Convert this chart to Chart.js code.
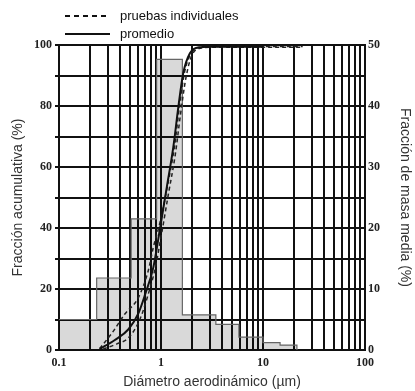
<!DOCTYPE html>
<html>
<head>
<meta charset="utf-8">
<script src="https://cdn.jsdelivr.net/npm/chart.js@4"></script>
<style>
  body { margin: 0; background: #fff; }
  #wrap { position: relative; width: 415px; height: 391px; }
  .leg { position: absolute; font: 13px "Liberation Sans", Arial, sans-serif; line-height: 13px; color: #111; white-space: nowrap; }
</style>
</head>
<body>
<div id="wrap">
  <canvas id="grafica"></canvas>
  <svg style="position:absolute;left:0;top:0" width="120" height="45">
    <line x1="65" y1="16" x2="110" y2="16" stroke="#111" stroke-width="2" stroke-dasharray="5 4"/>
    <line x1="65" y1="34" x2="110" y2="34" stroke="#111" stroke-width="2"/>
  </svg>
  <span class="leg" style="left:120px;top:9px">pruebas individuales</span>
  <span class="leg" style="left:120px;top:27px">promedio</span>
</div>
<script>
// --- Datos ---
// histograma (eje derecho, % masa): borde izquierdo de cada barra y su altura
const binEdges = [0.1, 0.234, 0.51, 0.906, 1.62, 3.45, 5.8, 10, 14.7, 21.5];
const binMass  = [5, 11.8, 21.5, 47.65, 5.75, 4.2, 2.1, 1.2, 0.8, 0];

// curva promedio (eje izquierdo, acumulativa)
const promDiam = [0.25, 0.35, 0.48, 0.6, 0.7, 0.84, 0.98, 1.14, 1.32, 1.48, 1.65, 1.92, 2.3, 3, 10];
const promAcum = [0.3, 3.2, 6.8, 12, 18.3, 27, 40, 53.4, 66.5, 79.7, 90.7, 97.3, 99.2, 99.4, 99.4];

// pruebas individuales
const pruebaADiam = [0.25, 0.33, 0.44, 0.6, 0.75, 0.84, 0.98, 1.16, 1.36, 1.52, 1.7, 1.95, 2.4, 3.2, 24.5];
const pruebaAAcum = [0.5, 5.5, 11.7, 17.2, 26, 33.6, 42, 54, 67, 80, 91, 97, 99.3, 99.5, 99.5];
const pruebaBDiam = [0.27, 0.37, 0.48, 0.62, 0.75, 0.88, 1.0, 1.18, 1.38, 1.55, 1.75, 2.0, 2.5, 3.5, 24.5];
const pruebaBAcum = [0.3, 2, 4, 10, 18.3, 27, 37, 51, 64, 77, 89, 96.5, 99, 99.3, 99.3];

// lineas de la rejilla logaritmica y etiquetas
const xGrid = [0.1, 0.2, 0.3, 0.4, 0.5, 0.6, 0.7, 0.8, 0.9, 1, 2, 3, 4, 5, 6, 7, 8, 9,
               10, 20, 30, 40, 50, 60, 70, 80, 90, 100];
const xLabels = ['0.1', '1', '10', '100'];

const pts = (xs, ys) => xs.map((x, i) => ({ x: x, y: ys[i] }));

const tickFont = { family: '"Liberation Serif", "Times New Roman", serif', size: 12, weight: 'bold' };
const titleFont = { family: '"Liberation Sans", Arial, sans-serif', size: 14 };
const negro = '#111';

new Chart(document.getElementById('grafica'), {
    type: 'line',
    data: {
        datasets: [
            {
                data: pts(promDiam, promAcum), yAxisID: 'y', order: 0,
                borderColor: negro, borderWidth: 2, pointRadius: 0,
                cubicInterpolationMode: 'monotone', fill: false
            },
            {
                data: pts(pruebaADiam, pruebaAAcum), yAxisID: 'y', order: 1,
                borderColor: '#222', borderWidth: 1.5, borderDash: [4, 3], pointRadius: 0,
                cubicInterpolationMode: 'monotone', fill: false
            },
            {
                data: pts(pruebaBDiam, pruebaBAcum), yAxisID: 'y', order: 2,
                borderColor: '#222', borderWidth: 1.5, borderDash: [4, 3], pointRadius: 0,
                cubicInterpolationMode: 'monotone', fill: false
            },
            {
                data: pts(binEdges, binMass), yAxisID: 'y1', order: 10,
                stepped: 'before', borderColor: '#666', borderWidth: 1.2, pointRadius: 0,
                backgroundColor: 'rgba(0,0,0,0.15)', fill: 'origin'
            }
        ]
    },
    options: {
        responsive: true,
        maintainAspectRatio: false,
        animation: false,
        layout: { padding: { top: 45, left: 0, right: 0, bottom: 0 } },
        plugins: { legend: { display: false }, tooltip: { enabled: false } },
        scales: {
            x: {
                type: 'logarithmic', min: 0.1, max: 100,
                afterBuildTicks: s => { s.ticks = xGrid.map(v => ({ value: v })); },
                afterFit: s => { s.height = 41; },
                grid: { color: negro, lineWidth: 2, drawTicks: false },
                border: { color: negro, width: 2 },
                ticks: {
                    autoSkip: false, maxRotation: 0, padding: 6, color: '#222', font: tickFont,
                    callback: v => xLabels.includes(String(v)) ? String(v) : ''
                },
                title: { display: true, text: 'Diámetro aerodinámico (µm)', color: '#333', font: titleFont, padding: 0 }
            },
            y: {
                position: 'left', min: 0, max: 100,
                afterFit: s => { s.width = 59; },
                grid: { color: negro, lineWidth: 2, tickLength: 4 },
                border: { color: negro, width: 2 },
                ticks: {
                    stepSize: 10, padding: 3, color: '#222', font: tickFont,
                    callback: v => v % 20 === 0 ? v : ''
                },
                title: { display: true, text: 'Fracción acumulativa (%)', color: '#333', font: titleFont, padding: { top: 10, bottom: 0 } }
            },
            y1: {
                position: 'right', min: 0, max: 50,
                afterFit: s => { s.width = 50; },
                grid: { drawOnChartArea: false, drawTicks: false },
                border: { color: negro, width: 2 },
                ticks: {
                    stepSize: 5, padding: 3, color: '#222', font: tickFont,
                    callback: v => v % 10 === 0 ? v : ''
                },
                title: { display: true, text: 'Fracción de masa media (%)', color: '#333', font: titleFont, padding: { top: 2, bottom: 0 } }
            }
        }
    }
});
</script>
</body>
</html>
